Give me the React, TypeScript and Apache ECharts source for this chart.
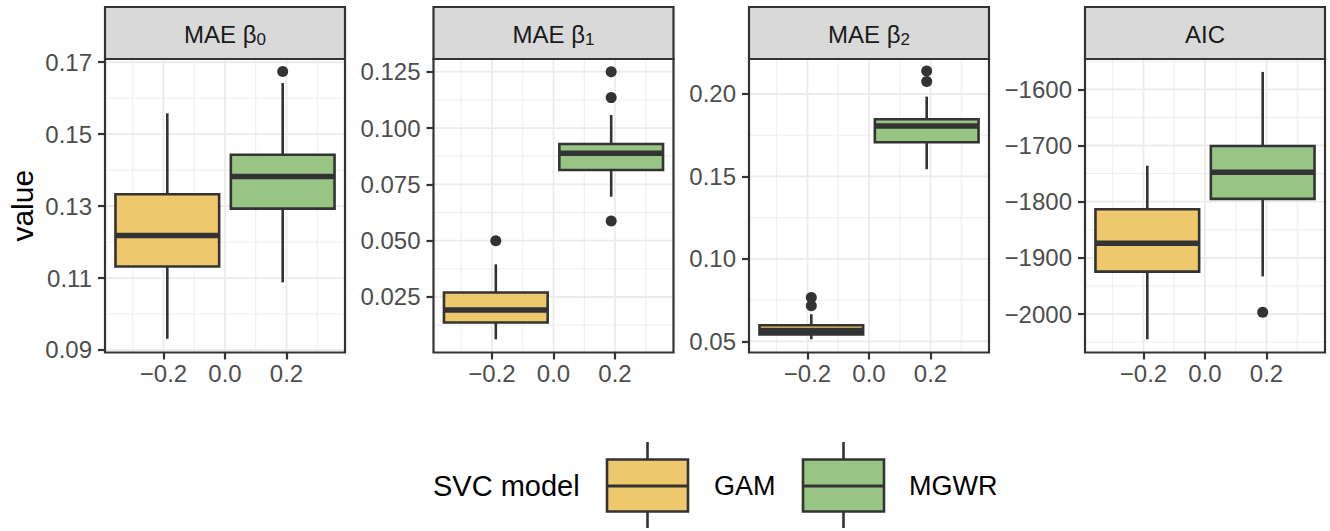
import React, { useEffect, useRef } from "react";
import * as echarts from "echarts";

// ---------- data ----------
const models = ["GAM", "MGWR"];
const modelX = [-0.1875, 0.1875];
const xTicks = [-0.2, 0, 0.2];
const xMinor = [-0.3, -0.1, 0.1, 0.3];

// strip labels: main text + subscript
const panelMain = ["MAE β", "MAE β", "MAE β", "AIC"];
const panelSub = ["0", "1", "2", ""];

// box stats per model: [lower whisker, Q1, median, Q3, upper whisker]
const maeB0Stats = [
  [0.0931, 0.1132, 0.1218, 0.1333, 0.1558],
  [0.1088, 0.1293, 0.1382, 0.1443, 0.1642],
];
const maeB0Outliers = [[], [0.1674]];

const maeB1Stats = [
  [0.0062, 0.0137, 0.0192, 0.027, 0.0395],
  [0.0695, 0.0814, 0.0888, 0.0929, 0.1058],
];
const maeB1Outliers = [[0.05], [0.125, 0.1135, 0.0587]];

const maeB2Stats = [
  [0.0513, 0.0543, 0.0567, 0.0598, 0.0665],
  [0.1544, 0.1707, 0.1806, 0.1847, 0.1984],
];
const maeB2Outliers = [[0.0767, 0.0717], [0.2139, 0.2075]];

const aicStats = [
  [-2045, -1924.5, -1874, -1813.5, -1736],
  [-1933, -1795, -1747.7, -1700.9, -1569],
];
const aicOutliers = [[], [-1997]];

// y axis: range, tick labels, minor grid
const yRanges = [
  [0.0893, 0.1709],
  [0.00036, 0.13064],
  [0.0433, 0.2212],
  [-2068.5, -1546],
];
const yTicks = [
  [0.09, 0.11, 0.13, 0.15, 0.17],
  [0.025, 0.05, 0.075, 0.1, 0.125],
  [0.05, 0.1, 0.15, 0.2],
  [-2000, -1900, -1800, -1700, -1600],
];
const yMinor = [
  [0.1, 0.12, 0.14, 0.16],
  [0.0125, 0.0375, 0.0625, 0.0875, 0.1125],
  [0.075, 0.125, 0.175],
  [-2050, -1950, -1850, -1750, -1650, -1550],
];
const yDecimals = [2, 3, 2, 0];
const X_MIN = -0.39;
const X_MAX = 0.39;

// ---------- style ----------
const FONT = "'Liberation Sans', Arial, Helvetica, sans-serif";
const FILLS = ["#EFC86D", "#98C584"];
const DARK = "#333333";
const GRIDC = "#EBEBEB";
const BOX_HALF = 0.1685;
const PANEL_LEFT = [105, 433.5, 749, 1085];
const PANEL_W = 240;
const PANEL_TOP = 59;
const PANEL_H = 293.5;
const STRIP_TOP = 7;

const allStats = [maeB0Stats, maeB1Stats, maeB2Stats, aicStats];
const allOutliers = [maeB0Outliers, maeB1Outliers, maeB2Outliers, aicOutliers];

const fmt = (v: number, d: number) => {
  const s = Math.abs(v).toFixed(d);
  return (v < 0 ? "\u2212" : "") + s;
};

const renderBox = (params: any, api: any) => {
  const x = api.value(0);
  const lo = api.coord([x, api.value(1)]);
  const q1 = api.coord([x, api.value(2)]);
  const md = api.coord([x, api.value(3)]);
  const q3 = api.coord([x, api.value(4)]);
  const hi = api.coord([x, api.value(5)]);
  const half = api.size([BOX_HALF, 0])[0];
  const fill = FILLS[params.dataIndex];
  const lw = 2.6;
  return {
    type: "group",
    children: [
      { type: "line", shape: { x1: hi[0], y1: hi[1], x2: q3[0], y2: q3[1] }, style: { stroke: DARK, lineWidth: lw } },
      { type: "line", shape: { x1: q1[0], y1: q1[1], x2: lo[0], y2: lo[1] }, style: { stroke: DARK, lineWidth: lw } },
      {
        type: "rect",
        shape: { x: q3[0] - half, y: q3[1], width: 2 * half, height: q1[1] - q3[1] },
        style: { fill, stroke: DARK, lineWidth: lw },
      },
      {
        type: "line",
        shape: { x1: md[0] - half, y1: md[1], x2: md[0] + half, y2: md[1] },
        style: { stroke: DARK, lineWidth: 5.5 },
      },
    ],
  };
};

// gridline item: [orientation (0 = horizontal, 1 = vertical), value, major (1) / minor (0)]
const makeRenderGrid = (yMin: number, yMax: number) => (params: any, api: any) => {
  const orient = api.value(0);
  const v = api.value(1);
  const major = api.value(2) === 1;
  let a, b;
  if (orient === 0) {
    a = api.coord([X_MIN, v]);
    b = api.coord([X_MAX, v]);
  } else {
    a = api.coord([v, yMin]);
    b = api.coord([v, yMax]);
  }
  return {
    type: "line",
    shape: { x1: a[0], y1: a[1], x2: b[0], y2: b[1] },
    style: { stroke: GRIDC, lineWidth: major ? 1.8 : 0.9 },
  };
};

export default function App() {
  const ref = useRef<HTMLDivElement>(null);
  useEffect(() => {
    if (!ref.current) return;
    const chart = echarts.init(ref.current, null, { renderer: "svg" });

    const grids: any[] = [];
    const xAxes: any[] = [];
    const yAxes: any[] = [];
    const series: any[] = [];
    const graphics: any[] = [];

    for (let p = 0; p < 4; p++) {
      grids.push({
        left: PANEL_LEFT[p],
        top: PANEL_TOP,
        width: PANEL_W,
        height: PANEL_H,
        show: false,
        containLabel: false,
        outerBoundsMode: "none",
      });
      xAxes.push({
        type: "value",
        gridIndex: p,
        position: "bottom",
        min: X_MIN,
        max: X_MAX,
        axisLine: { show: false, onZero: false },
        splitLine: { show: false },
        minorTick: { show: false },
        axisTick: { show: true, customValues: xTicks, length: 7, lineStyle: { color: DARK, width: 2.2 } },
        axisLabel: {
          show: true,
          customValues: xTicks,
          margin: 9,
          color: "#4D4D4D",
          fontSize: 24,
          fontFamily: FONT,
          formatter: (v: number) => fmt(v, 1),
        },
      });
      const d = yDecimals[p];
      yAxes.push({
        type: "value",
        gridIndex: p,
        position: "left",
        min: yRanges[p][0],
        max: yRanges[p][1],
        axisLine: { show: false, onZero: false },
        splitLine: { show: false },
        minorTick: { show: false },
        axisTick: { show: true, customValues: yTicks[p], length: 7, lineStyle: { color: DARK, width: 2.2 } },
        axisLabel: {
          show: true,
          customValues: yTicks[p],
          margin: 13,
          color: "#4D4D4D",
          fontSize: 24,
          fontFamily: FONT,
          formatter: (v: number) => fmt(v, d),
        },
      });

      // gridlines
      const gl: number[][] = [];
      yMinor[p].forEach((v) => gl.push([0, v, 0]));
      xMinor.forEach((v) => gl.push([1, v, 0]));
      yTicks[p].forEach((v) => gl.push([0, v, 1]));
      xTicks.forEach((v) => gl.push([1, v, 1]));
      series.push({
        type: "custom",
        xAxisIndex: p,
        yAxisIndex: p,
        z: 1,
        silent: true,
        clip: true,
        renderItem: makeRenderGrid(yRanges[p][0], yRanges[p][1]),
        encode: { x: 1, y: 1 },
        data: gl,
      });

      const stats = allStats[p];
      series.push({
        type: "custom",
        xAxisIndex: p,
        yAxisIndex: p,
        z: 3,
        silent: true,
        renderItem: renderBox,
        data: stats.map((s, i) => [modelX[i], ...s]),
      });

      const outs: number[][] = [];
      allOutliers[p].forEach((arr, i) => arr.forEach((v) => outs.push([modelX[i], v])));
      series.push({
        type: "scatter",
        xAxisIndex: p,
        yAxisIndex: p,
        z: 4,
        silent: true,
        symbol: "circle",
        symbolSize: 11,
        itemStyle: { color: DARK, opacity: 1 },
        data: outs,
      });

      // panel border
      graphics.push({
        type: "rect",
        z: 100,
        silent: true,
        shape: { x: PANEL_LEFT[p], y: PANEL_TOP, width: PANEL_W, height: PANEL_H },
        style: { fill: "none", stroke: DARK, lineWidth: 2.2 },
      });
      // strip
      graphics.push({
        type: "rect",
        z: 100,
        silent: true,
        shape: { x: PANEL_LEFT[p], y: STRIP_TOP, width: PANEL_W, height: PANEL_TOP - STRIP_TOP },
        style: { fill: "#D9D9D9", stroke: DARK, lineWidth: 2.2 },
      });
      const txt = panelSub[p] ? `{m|${panelMain[p]}}{s|${panelSub[p]}}` : `{m|${panelMain[p]}}`;
      graphics.push({
        type: "text",
        z: 101,
        silent: true,
        x: PANEL_LEFT[p] + PANEL_W / 2,
        y: (STRIP_TOP + PANEL_TOP) / 2 + 1,
        style: {
          text: txt,
          align: "center",
          verticalAlign: "middle",
          fill: "#1A1A1A",
          font: `24px ${FONT}`,
          rich: {
            m: { fontSize: 24, fontFamily: FONT, fill: "#1A1A1A", lineHeight: 28 },
            s: { fontSize: 17, fontFamily: FONT, fill: "#1A1A1A", lineHeight: 17, verticalAlign: "bottom" },
          },
        },
      });
    }

    // y title
    graphics.push({
      type: "text",
      silent: true,
      x: 22,
      y: PANEL_TOP + PANEL_H / 2,
      rotation: Math.PI / 2,
      style: { text: "value", align: "center", verticalAlign: "middle", fill: "#000000", font: `30px ${FONT}` },
    });

    // legend
    const legY = 486;
    graphics.push({
      type: "text",
      silent: true,
      x: 433,
      y: legY,
      style: { text: "SVC model", align: "left", verticalAlign: "middle", fill: "#000000", font: `29px ${FONT}` },
    });
    const keyLeft = [607, 803];
    const textLeft = [714, 909];
    models.forEach((m, i) => {
      const kx = keyLeft[i];
      const cx = kx + 40.5;
      graphics.push({
        type: "line", silent: true,
        shape: { x1: cx, y1: 442, x2: cx, y2: 459 },
        style: { stroke: DARK, lineWidth: 2.6 },
      });
      graphics.push({
        type: "line", silent: true,
        shape: { x1: cx, y1: 512, x2: cx, y2: 528 },
        style: { stroke: DARK, lineWidth: 2.6 },
      });
      graphics.push({
        type: "rect", silent: true,
        shape: { x: kx, y: 459.5, width: 81, height: 52 },
        style: { fill: FILLS[i], stroke: DARK, lineWidth: 2.6 },
      });
      graphics.push({
        type: "line", silent: true,
        shape: { x1: kx, y1: legY, x2: kx + 81, y2: legY },
        style: { stroke: DARK, lineWidth: 2.8 },
      });
      graphics.push({
        type: "text", silent: true,
        x: textLeft[i], y: legY,
        style: { text: m, align: "left", verticalAlign: "middle", fill: "#000000", font: `27px ${FONT}` },
      });
    });

    chart.setOption({
      animation: false,
      backgroundColor: "#FFFFFF",
      textStyle: { fontFamily: FONT },
      grid: grids,
      xAxis: xAxes,
      yAxis: yAxes,
      series,
      graphic: { elements: graphics },
    });
    return () => chart.dispose();
  }, []);
  return (
    <div
      ref={ref}
      style={{ position: "absolute", left: 0, top: 0, width: 1330, height: 531, background: "#fff" }}
    />
  );
}
